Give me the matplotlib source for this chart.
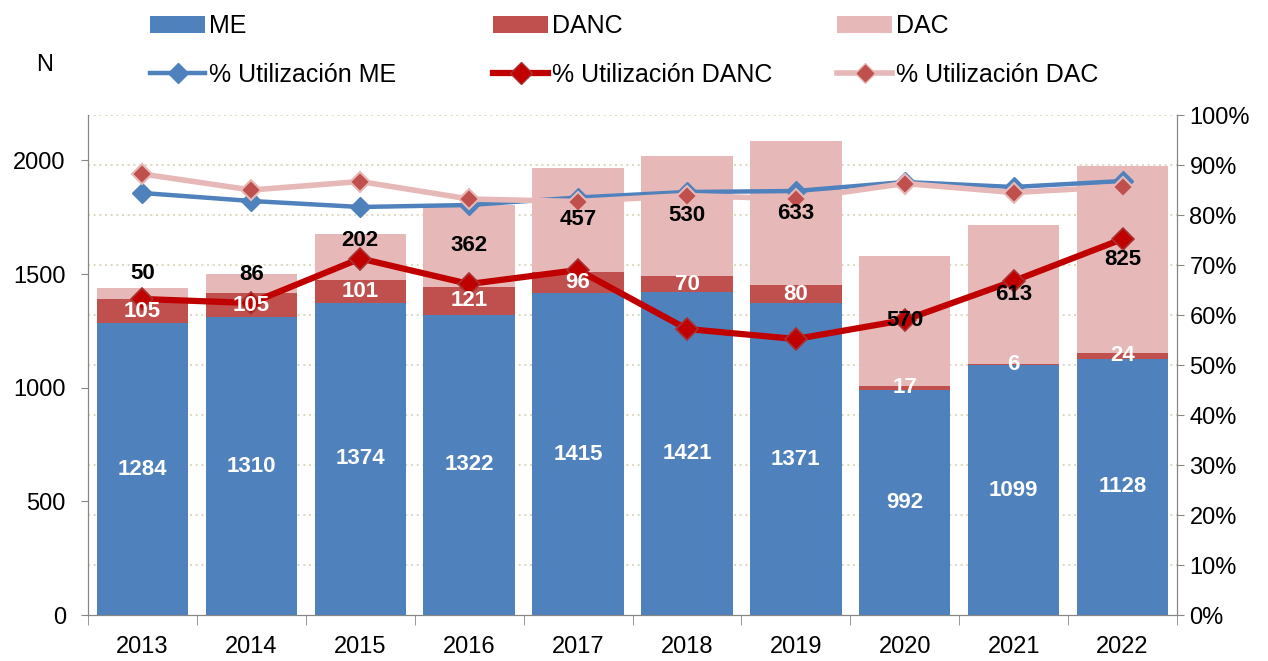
import matplotlib.pyplot as plt
import numpy as np
from matplotlib.patches import Patch
from matplotlib.lines import Line2D

# Valores
years = ['2013', '2014', '2015', '2016', '2017', '2018', '2019', '2020', '2021', '2022']
me = [1284, 1310, 1374, 1322, 1415, 1421, 1371, 992, 1099, 1128]
danc = [105, 105, 101, 121, 96, 70, 80, 17, 6, 24]
dac = [50, 86, 202, 362, 457, 530, 633, 570, 613, 825]
pct_me = [84.4, 82.8, 81.6, 82.0, 83.5, 84.6, 84.8, 86.6, 85.6, 86.8]
pct_danc = [63.2, 62.4, 71.3, 66.2, 69.0, 57.2, 55.2, 59.0, 66.8, 75.2]
pct_dac = [88.2, 85.0, 86.7, 83.2, 82.7, 83.9, 83.2, 86.3, 84.5, 85.7]

C_ME = '#4F81BD'
C_DANC = '#C0504D'
C_DAC = '#E6B9B8'
C_DANC_LINE = '#C00000'
C_AXIS = '#868686'
C_GRID = '#D8D2B4'

plt.rcParams['font.family'] = ['Liberation Sans', 'DejaVu Sans']

fig = plt.figure(figsize=(12.68, 6.61), dpi=100)
ax = fig.add_axes([88 / 1268, 46 / 661, 1089 / 1268, 500 / 661])
ax2 = ax.twinx()

x = np.arange(len(years))
w = 0.84
ymax = 2200
ax.set_xlim(-0.5, len(years) - 0.5)
ax.set_ylim(0, ymax)
ax2.set_ylim(0, 100)

# dotted gridlines at the right-axis steps, behind the bars
for p in range(10, 101, 10):
    ax.axhline(p / 100 * ymax, color=C_GRID, lw=1.2, ls=(0, (1.2, 2.2)), zorder=1)

bot_danc = np.array(me)
bot_dac = bot_danc + np.array(danc)
ax.bar(x, me, w, color=C_ME, zorder=2)
ax.bar(x, danc, w, bottom=bot_danc, color=C_DANC, zorder=2)
ax.bar(x, dac, w, bottom=bot_dac, color=C_DAC, zorder=2)

# lines on the secondary axis
ax2.plot(x, pct_me, color=C_ME, lw=3.2, marker='D', ms=10, mfc=C_ME, mec=C_ME, zorder=3)
ax2.plot(x, pct_dac, color=C_DAC, lw=4, marker='D', ms=10, mfc=C_DANC, mec=C_DAC, mew=1.5, zorder=4)
ax2.plot(x, pct_danc, color=C_DANC_LINE, lw=4.5, marker='D', ms=11, mfc=C_DANC_LINE, mec='#A83232', mew=1.2, zorder=5)

# data labels
lab_kw = dict(ha='center', va='center', fontsize=16, fontweight='bold',
              transform=ax.transData, zorder=10)
for i in range(len(years)):
    ax2.text(x[i], me[i] / 2, str(me[i]), color='white', **lab_kw)
    ax2.text(x[i], bot_danc[i] + danc[i] / 2, str(danc[i]), color='white', **lab_kw)
# DAC labels: the first three sit higher than the segment centre
dac_shift = [20, 9, 16, 0, 0, 0, 0, 0, 0, 0]
for i in range(len(years)):
    ax2.annotate(str(dac[i]), (x[i], bot_dac[i] + dac[i] / 2), xycoords=ax.transData,
                 xytext=(0, dac_shift[i] * 0.72), textcoords='offset points',
                 ha='center', va='center', fontsize=16, fontweight='bold',
                 color='black', zorder=10)

# axes styling
for a in (ax, ax2):
    a.spines['top'].set_visible(False)
    for s in ('left', 'right', 'bottom'):
        a.spines[s].set_color(C_AXIS)
ax.set_yticks(range(0, 2001, 500))
ax.tick_params(axis='y', length=5, color=C_AXIS, labelsize=17, pad=11)
ax.set_xticks(x, years)
ax.set_xticks(np.arange(-0.5, len(years)), minor=True)
ax.tick_params(axis='x', which='major', length=0, labelsize=17, pad=15)
ax.tick_params(axis='x', which='minor', length=7, color=C_AXIS)
ax2.set_yticks(range(0, 101, 10), [f'{p}%' for p in range(0, 101, 10)])
ax2.tick_params(axis='y', length=5, color=C_AXIS, labelsize=17, pad=4)

fig.text(45 / 1268, 1 - 65 / 661, 'N', fontsize=17, ha='center', va='center')

# legend: three columns placed by hand
leg_cols = [
    (150, [Patch(facecolor=C_ME), Line2D([], [], color=C_ME, lw=3.2, marker='D', ms=10, mfc=C_ME, mec=C_ME)],
     ['ME', '% Utilización ME']),
    (493, [Patch(facecolor=C_DANC), Line2D([], [], color=C_DANC_LINE, lw=4.5, marker='D', ms=11, mfc=C_DANC_LINE, mec='#A83232')],
     ['DANC', '% Utilización DANC']),
    (837, [Patch(facecolor=C_DAC), Line2D([], [], color=C_DAC, lw=4, marker='D', ms=10, mfc=C_DANC, mec=C_DAC)],
     ['DAC', '% Utilización DAC']),
]
for xpix, hs, ls in leg_cols:
    fig.legend(hs, ls, loc='upper left', bbox_to_anchor=(xpix / 1268, 1 - 14 / 661),
               frameon=False, fontsize=18, borderpad=0, borderaxespad=0,
               handlelength=2.2, handleheight=0.7, handletextpad=0.15, labelspacing=1.0)

fig.savefig('out.png', dpi=100)
